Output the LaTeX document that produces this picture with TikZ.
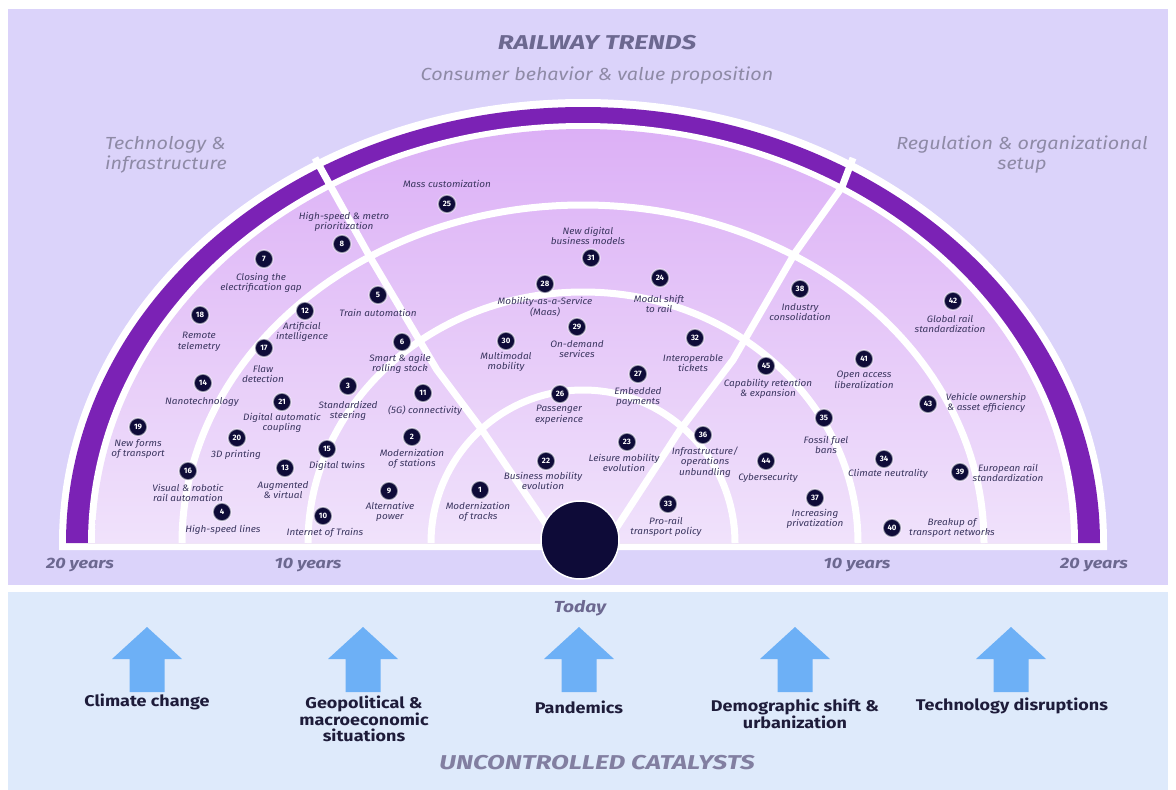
\documentclass[tikz,border=0pt]{standalone}
\usepackage{fontspec}
\setmainfont{Fira Sans}
\newfontfamily\lblfont[FakeStretch=1.07]{Fira Sans}
\newfontfamily\hdrfont[FakeStretch=1.13]{Fira Sans}
\newfontfamily\catfont[FakeStretch=1.16]{Fira Sans}
\newfontfamily\ttlfont[FakeStretch=1.3]{Fira Sans}
\newfontfamily\yrfont[FakeStretch=1.2]{Fira Sans}
\usetikzlibrary{shapes.geometric}
\definecolor{bgtop}{HTML}{DBD3FA}
\definecolor{bgbot}{HTML}{DEEAFB}
\definecolor{band}{HTML}{7B22B5}
\definecolor{ringtop}{HTML}{DCB0F6}
\definecolor{ringbot}{HTML}{F0E2FB}
\definecolor{badgec}{HTML}{0E0B38}
\definecolor{lblc}{HTML}{3B3660}
\definecolor{titlec}{HTML}{6C6890}
\definecolor{subc}{HTML}{8E8AA6}
\definecolor{arrowc}{HTML}{6DB0F6}
\definecolor{catc}{HTML}{1E1C3A}
\newcommand\rt[4]{%
  \node[badge] (b#1) at (#2) {#1};
  \node[lbl] (l#1) at (#3) {#4};}
\begin{document}
\begin{tikzpicture}[x=1pt,y=1pt,
  badge/.style={circle, fill=badgec, draw=white, draw opacity=0.55, line width=1.6pt,
    minimum size=18pt, inner sep=0pt, text=white, font=\bfseries\fontsize{7.8}{7.8}\selectfont},
  lbl/.style={font=\lblfont\itshape\fontsize{9.3}{10.6}\selectfont, text=lblc, align=center, inner sep=0pt},
  ringline/.style={draw=white, line width=7pt, line join=round},
  hdr/.style={font=\hdrfont\itshape\fontsize{17.5}{20}\selectfont, text=subc, inner sep=0pt},
  yrs/.style={font=\yrfont\bfseries\itshape\fontsize{15}{15}\selectfont, text=titlec, inner sep=0pt},
  cat/.style={font=\catfont\bfseries\fontsize{15.5}{16.5}\selectfont, text=catc, align=center, inner sep=0pt}]
\useasboundingbox (0,0) rectangle (1176,-790);
\fill[white] (0,0) rectangle (1176,-790);
\fill[bgtop] (8,-9) rectangle (1168,-585);
\fill[bgbot] (8,-592) rectangle (1168,-790);
% half disc
\fill[white] (59,-550) -- (59,-543) arc[start angle=180,end angle=0,x radius=524,y radius=444] -- (1107,-550) -- cycle;
\fill[band] (66,-543) arc[start angle=180,end angle=0,x radius=517,y radius=436] -- cycle;
\fill[white] (88,-543) arc[start angle=180,end angle=0,x radius=495,y radius=420] -- cycle;
\shade[top color=ringtop,bottom color=ringbot] (95,-543) arc[start angle=180,end angle=0,x radius=488,y radius=414] -- cycle;
% ring boundaries
\draw[ringline] (182,-543) arc[start angle=180,end angle=0,x radius=401,y radius=338];
\draw[ringline] (308,-543) arc[start angle=180,end angle=0,x radius=275,y radius=251];
\draw[ringline] (431,-543) arc[start angle=180,end angle=0,x radius=152,y radius=153];
% sector dividers
\draw[ringline] (315,-158) -- (331,-187) -- (370,-257) -- (437,-370) -- (482,-430) -- (550,-530);
\draw[ringline] (853,-158) -- (842,-187) -- (795,-253) -- (733,-360) -- (680,-430) -- (615,-530);
% today circle
\node[circle, fill=badgec, draw=white, line width=1.5pt, minimum size=78pt, inner sep=0pt] (today) at (580,-540) {};
% titles
\node[font=\ttlfont\bfseries\itshape\fontsize{20}{20}\selectfont, text=titlec, inner sep=0pt] (title) at (597,-43) {RAILWAY TRENDS};
\node[hdr] (consumer) at (597,-76) {Consumer behavior \& value proposition};
\node[hdr, align=left, anchor=west] (tech) at (105,-155) {Technology \&\\infrastructure};
\node[hdr, align=center] (regul) at (1022,-155) {Regulation \& organizational\\setup};
\node[yrs] (y20l) at (80,-565) {20 years};
\node[yrs] (y10l) at (308,-565) {10 years};
\node[yrs] (y10r) at (857,-565) {10 years};
\node[yrs] (y20r) at (1094,-565) {20 years};
% technology & infrastructure
\rt{7}{264,-259}{261,-283}{Closing the\\electrification gap}
\rt{18}{200,-315}{199,-342}{Remote\\telemetry}
\rt{14}{203,-383}{202,-402}{Nanotechnology}
\rt{19}{138,-427}{138,-449}{New forms\\of transport}
\rt{16}{188,-471}{188,-493}{Visual \& robotic\\rail automation}
\rt{4}{222,-512}{223,-530}{High-speed lines}
\rt{8}{342,-244}{344,-222}{High-speed \& metro\\prioritization}
\rt{12}{305,-311}{302,-332}{Artificial\\intelligence}
\rt{17}{264,-348}{263,-374}{Flaw\\detection}
\rt{21}{282,-402}{282,-423}{Digital automatic\\coupling}
\rt{20}{237,-438}{236,-455}{3D printing}
\rt{13}{285,-468}{283,-490}{Augmented\\\& virtual}
\rt{5}{378,-295}{378,-313}{Train automation}
\rt{6}{402,-342}{400,-364}{Smart \& agile\\rolling stock}
\rt{3}{348,-386}{348,-411}{Standardized\\steering}
\rt{15}{327,-449}{337,-466}{Digital twins}
\rt{11}{423,-393}{425,-411}{(5G) connectivity}
\rt{2}{412,-437}{412,-459}{Modernization\\of stations}
\rt{9}{389,-491}{390,-512}{Alternative\\power}
\rt{10}{323,-516}{325,-533}{Internet of Trains}
\rt{1}{480,-490}{478,-512}{Modernization\\of tracks}
% consumer behavior
\rt{25}{447,-204}{447,-184}{Mass customization}
\rt{31}{591,-258}{588,-236}{New digital\\business models}
\rt{28}{545,-284}{545,-307}{Mobility-as-a-Service\\(Maas)}
\rt{24}{660,-278}{659,-304}{Modal shift\\to rail}
\rt{30}{506,-341}{506,-362}{Multimodal\\mobility}
\rt{29}{577,-327}{577,-349}{On-demand\\services}
\rt{32}{695,-338}{693,-363}{Interoperable\\tickets}
\rt{27}{638,-374}{638,-397}{Embedded\\payments}
\rt{26}{560,-394}{559,-415}{Passenger\\experience}
\rt{23}{627,-442}{624,-463}{Leisure mobility\\evolution}
\rt{22}{546,-461}{543,-481}{Business mobility\\evolution}
\rt{33}{668,-504}{666,-527}{Pro-rail\\transport policy}
% regulation
\rt{36}{703,-435}{705,-462}{Infrastructure/\\operations\\unbundling}
\rt{38}{800,-289}{800,-312}{Industry\\consolidation}
\rt{42}{953,-301}{950,-324}{Global rail\\standardization}
\rt{45}{766,-366}{768,-389}{Capability retention\\\& expansion}
\rt{41}{864,-359}{864,-380}{Open access\\liberalization}
\rt{35}{824,-418}{826,-445}{Fossil fuel\\bans}
\rt{43}{928,-404}{986,-403}{Vehicle ownership\\\& asset efficiency}
\rt{44}{766,-461}{768,-478}{Cybersecurity}
\rt{34}{884,-459}{888,-474}{Climate neutrality}
\rt{39}{960,-472}{1008,-473}{European rail\\standardization}
\rt{37}{815,-498}{815,-519}{Increasing\\privatization}
\rt{40}{892,-528}{952,-528}{Breakup of\\transport networks}
% bottom panel
\node[yrs, font=\yrfont\bfseries\itshape\fontsize{16}{16}\selectfont] (todaylbl) at (580,-608) {Today};
\foreach \ax in {147,363,579,795,1011}{
  \fill[arrowc] (\ax-17.5,-692) -- (\ax-17.5,-659) -- (\ax-35,-659) -- (\ax,-627) -- (\ax+35,-659) -- (\ax+17.5,-659) -- (\ax+17.5,-692) -- cycle;}
\node[cat] (c1) at (147,-702) {Climate change};
\node[cat] (c2) at (364,-719) {Geopolitical \&\\macroeconomic\\situations};
\node[cat] (c3) at (579,-707) {Pandemics};
\node[cat] (c4) at (795,-714) {Demographic shift \&\\urbanization};
\node[cat] (c5) at (1012,-706) {Technology disruptions};
\node[font=\ttlfont\bfseries\itshape\fontsize{20}{20}\selectfont, text=titlec!85, inner sep=0pt] (uncat) at (597,-763) {UNCONTROLLED CATALYSTS};
\end{tikzpicture}
\end{document}
